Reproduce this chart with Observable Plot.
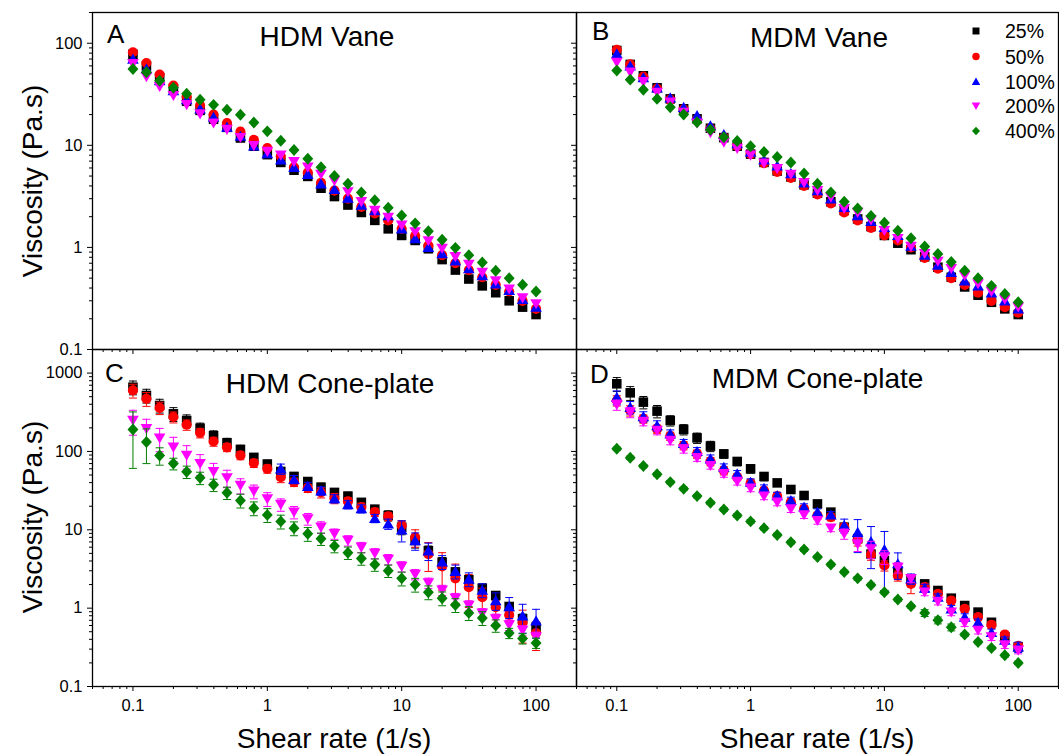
<!DOCTYPE html>
<html><head><meta charset="utf-8">
<script src="https://cdn.jsdelivr.net/npm/d3@7"></script>
<script src="https://cdn.jsdelivr.net/npm/@observablehq/plot@0.6"></script>
<style>
body{margin:0;background:#fff;}
#wrap{position:relative;width:1059px;height:755px;overflow:hidden;background:#fff;font-family:"Liberation Sans",Arial,sans-serif;}
#wrap svg{position:absolute;}
#wrap g[aria-label$="tick label"], #wrap g[aria-label$="tick label"] text{font-size:16.5px !important;font-family:"Liberation Sans",Arial,sans-serif !important;}
</style></head><body><div id="wrap"></div><script>
// ---------- data ----------
const seriesNames = ["25%", "50%", "100%", "200%", "400%"];
const seriesColors = ["#000000", "#ff0000", "#0000ff", "#ff00ff", "#008000"];
const shearRate = [0.1,0.126,0.158,0.2,0.251,0.316,0.398,0.501,0.631,0.794,1,1.26,1.58,2,2.51,3.16,3.98,5.01,6.31,7.94,10,12.6,15.8,20,25.1,31.6,39.8,50.1,63.1,79.4,100];
const xMajorTicks = [0.1, 1, 10, 100];
const yMajorTop = [0.1, 1, 10, 100];
const yMajorBottom = [0.1, 1, 10, 100, 1000];
const panelTitles = ["HDM Vane", "MDM Vane", "HDM Cone-plate", "MDM Cone-plate"];
const panelLetters = ["A", "B", "C", "D"];
const xTitle = "Shear rate (1/s)";
const yTitle = "Viscosity (Pa.s)";

// Panel A: HDM Vane
const hdmVane25  = [78,60,46,36,27,22,18,15,11.8,9.8,8.1,6.8,5.7,4.96,3.8,3.15,2.6,2.2,1.84,1.52,1.31,1.17,0.97,0.76,0.60,0.49,0.42,0.36,0.30,0.26,0.22];
const hdmVane50  = [81.6,64,49.4,38.5,30,24.6,20,16.5,13.6,11.3,9.4,7.8,6.1,5.4,4.3,3.6,3.0,2.5,2.15,1.84,1.52,1.3,1.04,0.84,0.70,0.60,0.51,0.43,0.37,0.30,0.25];
const hdmVane100 = [70,56,43,34.4,28,22.8,18.9,15.1,12.3,9.9,8.3,7.2,6.1,5.2,4.2,3.7,3.05,2.6,2.3,2.05,1.52,1.22,1.0,0.87,0.74,0.62,0.53,0.44,0.38,0.31,0.26];
const hdmVane200 = [63,47,37.6,30.7,25,20.3,16.5,14.3,11.9,9.9,8.7,8.0,6.9,6.1,5.2,4.5,3.5,2.8,2.3,1.97,1.65,1.42,1.16,0.98,0.81,0.68,0.57,0.47,0.39,0.32,0.28];
const hdmVane400 = [56,52,43,36.6,32,27.9,24.9,22.3,19.9,16.7,13.7,11.1,9.0,7.4,6.1,5.0,4.2,3.45,2.9,2.45,2.05,1.72,1.44,1.19,0.99,0.84,0.71,0.59,0.50,0.43,0.37];

// Panel B: MDM Vane
const mdmVane25  = [85,62,48,36.6,28.5,22.8,18.2,14.7,11.9,9.8,8.2,6.8,5.6,4.9,4.1,3.4,2.8,2.3,1.9,1.6,1.31,1.1,0.95,0.81,0.64,0.51,0.41,0.34,0.29,0.25,0.22];
const mdmVane50  = [86,62,47,36,28,22.5,18,14.6,12,9.8,8.2,6.7,5.5,4.8,4.0,3.3,2.7,2.2,1.84,1.55,1.31,1.17,1.0,0.79,0.62,0.50,0.43,0.36,0.30,0.26,0.23];
const mdmVane100 = [79,60,46,36.6,29.2,23.6,19.6,15.6,12.8,10.4,8.6,7.2,6.3,5.3,4.3,3.6,3.0,2.47,2.05,1.8,1.57,1.31,1.03,0.84,0.67,0.57,0.47,0.42,0.36,0.30,0.25];
const mdmVane200 = [65,52,42,33,26.5,21,16.5,13.3,10.7,9.3,8.0,6.7,5.9,5.2,4.3,3.6,3.1,2.4,2.2,1.85,1.46,1.22,1.02,0.87,0.73,0.62,0.53,0.44,0.37,0.31,0.26];
const mdmVane400 = [54,44,35,28.5,23.6,20,16.8,14.2,12,11.0,9.8,8.6,7.7,6.8,5.3,4.2,3.45,2.8,2.4,2.03,1.74,1.46,1.23,1.02,0.86,0.72,0.59,0.50,0.42,0.35,0.29];

// Panel C: HDM Cone-plate
const hdmCone25  = [660,518,386,302,248,198,159,129,106,84,69,55.5,48,41.3,35,30,26.9,22.4,18.3,15.2,10.8,7.3,5.4,3.85,2.9,2.3,1.8,1.45,1.05,0.73,0.57];
const hdmCone50  = [600,470,360,275,219,173,134,113,89,71,60,47,40.5,34,30,25.3,23,19.5,16.8,14.8,11.3,8.0,4.9,3.4,2.4,1.85,1.38,1.03,0.82,0.65,0.48];
const hdmCone100 = [null,null,null,null,null,null,null,null,null,null,null,60,44,36,31.5,25,21,18.6,14,11.9,10,7.3,5.4,3.9,2.95,2.35,1.7,1.25,1.05,0.8,0.69];
const hdmCone200 = [248,195,148,113,89,70,55,46,36.7,31,24.8,21,16.8,13.8,10.8,8.9,7.3,6.0,5.0,4.2,3.4,2.7,2.1,1.7,1.34,1.08,0.86,0.73,0.61,0.52,0.43];
const hdmCone400 = [190,132,89,70,55,46,37.5,29.7,23.7,18.9,15.5,12.8,10.5,8.9,7.7,6.2,5.1,4.3,3.6,3.0,2.4,2.0,1.6,1.34,1.1,0.87,0.75,0.6,0.48,0.41,0.36];
// relative standard deviations (error bars)
const hdmCone25Err  = [0.2,0.2,0.2,0.2,0.18,0.16,0.15,0.14,0.13,0.12,0.12,0.12,0.12,0.12,0.12,0.12,0.12,0.12,0.12,0.15,0.2,0.2,0.15,0.15,0.12,0.12,0.12,0.12,0.12,0.15,0.15];
const hdmCone50Err  = [0.2,0.2,0.18,0.16,0.15,0.14,0.13,0.12,0.12,0.12,0.12,0.15,0.12,0.12,0.15,0.15,0.12,0.12,0.12,0.12,0.15,0.25,0.4,0.5,0.52,0.45,0.3,0.2,0.15,0.45,0.4];
const hdmCone100Err = [null,null,null,null,null,null,null,null,null,null,null,0.15,0.12,0.12,0.12,0.12,0.12,0.12,0.12,0.15,0.3,0.25,0.25,0.2,0.2,0.2,0.2,0.25,0.3,0.4,0.4];
const hdmCone200Err = [0.35,0.32,0.33,0.34,0.33,0.3,0.28,0.25,0.22,0.2,0.2,0.18,0.18,0.17,0.17,0.15,0.15,0.15,0.15,0.15,0.15,0.15,0.15,0.15,0.15,0.15,0.15,0.15,0.15,0.15,0.15];
const hdmCone400Err = [0.68,0.47,0.25,0.17,0.18,0.18,0.18,0.18,0.2,0.2,0.2,0.2,0.2,0.2,0.18,0.18,0.18,0.18,0.18,0.18,0.2,0.2,0.2,0.2,0.2,0.2,0.2,0.18,0.15,0.15,0.15];

// Panel D: MDM Cone-plate
const mdmCone25  = [730,560,426,327,248,191,149,117,93,74.5,60,47.9,39.7,32.7,27.4,21.4,16.8,10.8,7.7,4.9,4.06,3.0,2.37,2.04,1.68,1.34,1.08,0.89,0.66,0.43,0.32];
const mdmCone50  = [447,333,261,194,157,119,93,74.5,57,47,39.4,31.7,26.9,22.5,18.5,15.2,14.5,10.8,7.3,4.8,3.5,2.6,2.04,1.85,1.52,1.25,0.98,0.77,0.61,0.46,0.33];
const mdmCone100 = [493,367,279,214,168,127,100,80.5,63,51.8,40.6,34,27.4,23.7,19.5,16.8,15.5,11.4,9.3,7.1,5.6,3.7,2.37,1.8,1.38,0.98,0.77,0.66,0.49,0.39,0.32];
const mdmCone200 = [394,317,241,185,138,108,83,66,52,41.3,34,26.9,22.5,18.5,15.5,13.1,10.5,8.9,6.6,5.7,4.5,3.3,2.37,1.6,1.22,0.89,0.65,0.52,0.43,0.34,0.29];
const mdmCone400 = [108,83,65,51,40.6,33.3,26.9,22.1,18.2,15.2,12.8,10.5,8.6,6.95,5.6,4.5,3.6,2.9,2.4,1.98,1.6,1.29,1.06,0.87,0.70,0.57,0.46,0.37,0.31,0.25,0.2];
const mdmCone25Err  = [0.2,0.2,0.18,0.18,0.15,0.15,0.15,0.15,0.12,0.12,0.12,0.12,0.1,0.1,0.1,0.1,0.1,0.1,0.1,0.1,0.1,0.1,0.08,0.08,0.08,0.08,0.08,0.08,0.08,0.08,0.08];
const mdmCone50Err  = [0.15,0.15,0.12,0.12,0.12,0.12,0.12,0.12,0.12,0.1,0.1,0.1,0.1,0.1,0.1,0.1,0.1,0.12,0.15,0.15,0.15,0.15,0.25,0.12,0.1,0.1,0.1,0.1,0.1,0.1,0.1];
const mdmCone100Err = [0.2,0.18,0.15,0.15,0.12,0.12,0.12,0.12,0.1,0.1,0.1,0.1,0.1,0.1,0.1,0.1,0.1,0.2,0.45,0.55,0.7,0.37,0.15,0.12,0.1,0.1,0.1,0.1,0.1,0.1,0.15];
const mdmCone200Err = [0.15,0.15,0.12,0.12,0.12,0.12,0.1,0.1,0.1,0.1,0.1,0.1,0.1,0.1,0.1,0.1,0.1,0.15,0.2,0.25,0.2,0.15,0.1,0.1,0.1,0.1,0.1,0.1,0.1,0.1,0.1];
const mdmCone400Err = [0.05,0.05,0.05,0.05,0.05,0.05,0.05,0.05,0.05,0.05,0.05,0.05,0.05,0.05,0.05,0.05,0.05,0.05,0.05,0.05,0.05,0.05,0.05,0.1,0.1,0.1,0.05,0.05,0.05,0.05,0.05];

// ---------- symbols ----------
const R = size => Math.sqrt(size / Math.PI);
const symSquare = {draw(c, s){const a = 0.92 * R(s); c.rect(-a, -a, 2*a, 2*a);}};
const symCircle = {draw(c, s){const r = 0.98 * R(s); c.moveTo(r, 0); c.arc(0, 0, r, 0, 2*Math.PI);}};
const symUp = {draw(c, s){const r = R(s); c.moveTo(0, -1.05*r); c.lineTo(1.12*r, 0.9*r); c.lineTo(-1.12*r, 0.9*r); c.closePath();}};
const symDown = {draw(c, s){const r = R(s); c.moveTo(0, 1.05*r); c.lineTo(1.12*r, -0.9*r); c.lineTo(-1.12*r, -0.9*r); c.closePath();}};
const symDiamond = {draw(c, s){const r = R(s); c.moveTo(0, -1.15*r); c.lineTo(1.05*r, 0); c.lineTo(0, 1.15*r); c.lineTo(-1.05*r, 0); c.closePath();}};
const symCap = {draw(c, s){const r = R(s); c.moveTo(-r, 0); c.lineTo(r, 0);}};
const seriesSymbols = [symSquare, symCircle, symUp, symDown, symDiamond];

// ---------- minor ticks ----------
function minorTicks(lo, hi) {
  const out = [];
  for (let e = -2; e <= 3; e++) for (let m = 2; m <= 9; m++) {
    const v = +(m * Math.pow(10, e)).toPrecision(3);
    if (v >= lo * 0.999 && v <= hi * 1.001) out.push(v);
  }
  return out;
}

const FONT = "'Liberation Sans', Arial, Helvetica, sans-serif";
const wrap = document.getElementById("wrap");

function panel(cfg) {
  const {values, errors, yDomain, yMajor, left, top, width, height, mL, mR, mT, mB, showXLabels, showYLabels} = cfg;
  const fmt = d3.format("~g");
  const marks = [];
  values.forEach((vals, i) => {
    const rows = shearRate.map((x, j) => ({x, v: vals[j], e: errors ? errors[i][j] : null}))
      .filter(d => d.v != null);
    const color = seriesColors[i];
    if (errors) {
      const er = rows.filter(d => d.e != null).map(d => ({x: d.x, lo: d.v * (1 - d.e), hi: d.v * (1 + d.e)}));
      marks.push(Plot.ruleX(er, {x: "x", y1: "lo", y2: "hi", stroke: color, strokeWidth: 1}));
      marks.push(Plot.dot(er, {x: "x", y: "lo", symbol: symCap, r: 4, stroke: color, fill: "none", strokeWidth: 1}));
      marks.push(Plot.dot(er, {x: "x", y: "hi", symbol: symCap, r: 4, stroke: color, fill: "none", strokeWidth: 1}));
    }
    marks.push(Plot.dot(rows, {x: "x", y: "v", symbol: seriesSymbols[i], r: 5.2, fill: color, stroke: "none"}));
  });
  marks.push(Plot.frame({stroke: "black", strokeWidth: 1.3}));
  marks.push(Plot.axisX({ticks: xMajorTicks, tickSize: 5, tickPadding: 8, fontSize: 16.5, label: null,
    tickFormat: showXLabels ? fmt : () => ""}));
  marks.push(Plot.axisX({ticks: minorTicks(0.05, 200), tickSize: 3, label: null, tickFormat: () => ""}));
  marks.push(Plot.axisY({ticks: yMajor, tickSize: 5, tickPadding: 5, fontSize: 16.5, label: null,
    tickFormat: showYLabels ? fmt : () => ""}));
  marks.push(Plot.axisY({ticks: minorTicks(yDomain[0], yDomain[1]), tickSize: 3, label: null, tickFormat: () => ""}));

  const svg = Plot.plot({
    width, height, marginLeft: mL, marginRight: mR, marginTop: mT, marginBottom: mB,
    x: {type: "log", domain: [0.05, 200]},
    y: {type: "log", domain: yDomain},
    style: {background: "transparent", overflow: "visible", fontFamily: FONT, fontSize: "16.5px", color: "black"},
    marks
  });
  svg.style.position = "absolute";
  svg.style.left = left + "px";
  svg.style.top = top + "px";
  svg.style.maxWidth = "none";
  wrap.appendChild(svg);
}

panel({values: [hdmVane25, hdmVane50, hdmVane100, hdmVane200, hdmVane400], errors: null,
  yDomain: [0.1, 200], yMajor: yMajorTop, left: 0, top: 0, width: 586, height: 360,
  mL: 92, mR: 10, mT: 12, mB: 11, showXLabels: false, showYLabels: true});
panel({values: [mdmVane25, mdmVane50, mdmVane100, mdmVane200, mdmVane400], errors: null,
  yDomain: [0.1, 200], yMajor: yMajorTop, left: 486, top: 0, width: 582, height: 360,
  mL: 90, mR: 10, mT: 12, mB: 11, showXLabels: false, showYLabels: false});
panel({values: [hdmCone25, hdmCone50, hdmCone100, hdmCone200, hdmCone400],
  errors: [hdmCone25Err, hdmCone50Err, hdmCone100Err, hdmCone200Err, hdmCone400Err],
  yDomain: [0.1, 2000], yMajor: yMajorBottom, left: 0, top: 339, width: 586, height: 416,
  mL: 92, mR: 10, mT: 10, mB: 69, showXLabels: true, showYLabels: true});
panel({values: [mdmCone25, mdmCone50, mdmCone100, mdmCone200, mdmCone400],
  errors: [mdmCone25Err, mdmCone50Err, mdmCone100Err, mdmCone200Err, mdmCone400Err],
  yDomain: [0.1, 2000], yMajor: yMajorBottom, left: 486, top: 339, width: 582, height: 416,
  mL: 90, mR: 10, mT: 10, mB: 69, showXLabels: true, showYLabels: false});

// ---------- text overlay ----------
const ov = d3.select(wrap).append("svg")
  .attr("width", 1059).attr("height", 755)
  .style("left", "0px").style("top", "0px").style("pointer-events", "none")
  .attr("font-family", FONT).attr("fill", "black");

[[42, 181], [42, 517]].forEach(([x, y]) => {
  ov.append("text").attr("transform", `translate(${x},${y}) rotate(-90)`)
    .attr("text-anchor", "middle").attr("font-size", 28).text(yTitle);
});
[334, 817].forEach(x => {
  ov.append("text").attr("x", x).attr("y", 748).attr("text-anchor", "middle").attr("font-size", 28).text(xTitle);
});
const titlePos = [[327, 46], [819, 47], [330, 393], [817.5, 388]];
panelTitles.forEach((t, i) => {
  ov.append("text").attr("x", titlePos[i][0]).attr("y", titlePos[i][1])
    .attr("text-anchor", "middle").attr("font-size", 28).text(t);
});
const letterPos = [[107, 43], [592, 40], [105, 382], [590, 383]];
panelLetters.forEach((t, i) => {
  ov.append("text").attr("x", letterPos[i][0]).attr("y", letterPos[i][1]).attr("font-size", 26).text(t);
});
// legend
const legendRows = [31, 56.5, 81.5, 106, 131];
seriesNames.forEach((name, i) => {
  const sz = 3.8 * 3.8 * Math.PI;
  ov.append("path").attr("transform", `translate(976,${legendRows[i]})`)
    .attr("d", d3.symbol(seriesSymbols[i], sz)()).attr("fill", seriesColors[i]);
  ov.append("text").attr("x", 1005).attr("y", legendRows[i] + 7).attr("font-size", 19.5).text(name);
});
</script></body></html>
